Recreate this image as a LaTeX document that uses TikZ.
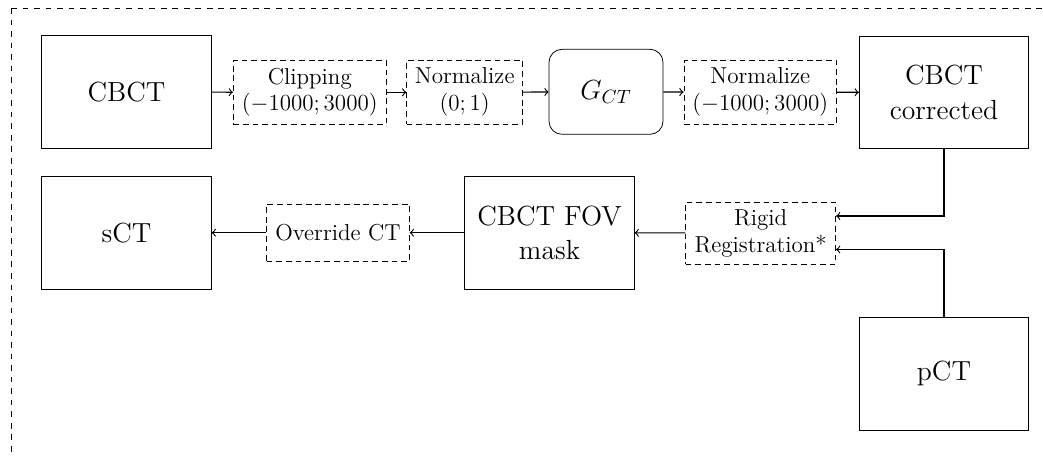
\documentclass[tikz,border=0pt]{standalone}
\usetikzlibrary{calc}
\def\pxu{0.5208pt}
\begin{document}
\begin{tikzpicture}[x=\pxu, y=-\pxu,
  bigbox/.style={draw, align=center, inner sep=0pt, font=\Large,
    minimum width={169.5*\pxu}, minimum height={112.6*\pxu}},
  stagebox/.style={draw, densely dashed, align=center, inner sep=0pt, font=\large,
    minimum height={63.3*\pxu}},
  netbox/.style={draw, rounded corners={13*\pxu}, align=center, inner sep=0pt, font=\Large,
    minimum width={114*\pxu}, minimum height={85*\pxu}},
  flow/.style={->, semithick}]
\useasboundingbox (0,0) rectangle (1043,457);

% frame around the pipeline
\draw[dashed] (11,8) -- (1043,8);
\draw[dashed] (11,8) -- (11,457);

% upper row: correction of the CBCT
\node[bigbox] (cbct) at (126.5,92) {CBCT};
\node[stagebox, minimum width={153*\pxu}] (clip) at (309.8,92.3) {Clipping\\$(-1000;3000)$};
\node[stagebox, minimum width={116*\pxu}] (norm1) at (464.7,92.3) {Normalize\\$(0;1)$};
\node[netbox] (gct) at (606,91.8) {$G_{CT}$};
\node[stagebox, minimum width={152.7*\pxu}] (norm2) at (760.3,92.3) {Normalize\\$(-1000;3000)$};
\node[bigbox] (corr) at (944,92.2) {CBCT\\corrected};

% lower row: registration and synthetic CT
\node[stagebox, minimum width={150*\pxu}, minimum height={62*\pxu}] (reg) at (760.7,233) {Rigid\\Registration*};
\node[bigbox] (mask) at (549.5,232.7) {CBCT FOV\\mask};
\node[stagebox, minimum width={142.6*\pxu}, minimum height={57.3*\pxu}] (over) at (338,232.7) {Override CT};
\node[bigbox] (sct) at (126.5,232.7) {sCT};
\node[bigbox] (pct) at (944,373.7) {pCT};

% connectors
\draw[flow] (cbct) -- (clip);
\draw[flow] (clip) -- (norm1);
\draw[flow] (norm1) -- (gct);
\draw[flow] (gct) -- (norm2);
\draw[flow] (norm2) -- (corr);
\draw[flow] (corr.south) |- ($(reg.east)+(0,-17)$);
\draw[flow] (pct.north) |- ($(reg.east)+(0,16.5)$);
\draw[flow] (reg) -- (mask);
\draw[flow] (mask) -- (over);
\draw[flow] (over) -- (sct);
\end{tikzpicture}
\end{document}
